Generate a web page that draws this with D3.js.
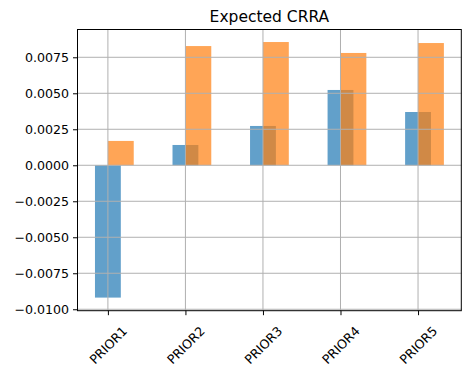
<!DOCTYPE html>
<html>
<head>
<meta charset="utf-8">
<script src="https://cdn.jsdelivr.net/npm/d3@7"></script>
<style>
  body { margin: 0; background: #fff; }
  text { font-family: "DejaVu Sans", sans-serif; }
</style>
</head>
<body>
<script>
var width = 470;
var height = 374;

var categories = ['PRIOR1', 'PRIOR2', 'PRIOR3', 'PRIOR4', 'PRIOR5'];
var blueValues = [-0.00919, 0.00141, 0.00273, 0.00523, 0.00370];
var orangeValues = [0.00169, 0.00828, 0.00856, 0.00780, 0.00849];
var yTicks = [-0.0100, -0.0075, -0.0050, -0.0025, 0.0000, 0.0025, 0.0050, 0.0075];

var plotLeft = 77.5, plotRight = 461.3, plotTop = 29.5, plotBottom = 310.7;
var barWidth = 1 / 3;

var svg = d3.select('body').append('svg')
  .attr('width', width).attr('height', height);

var x = d3.scaleLinear().domain([-0.392, 4.558]).range([plotLeft, plotRight]);
var y = d3.scaleLinear().domain([-0.01010, 0.00943]).range([plotBottom, plotTop]);

// bars: blue centred on the tick, orange starting at the tick
svg.selectAll('rect.blue').data(blueValues).enter().append('rect')
  .attr('class', 'blue')
  .attr('x', function(d, i) { return x(i - barWidth / 2); })
  .attr('width', function(d, i) { return x(i + barWidth / 2) - x(i - barWidth / 2); })
  .attr('y', function(d) { return y(Math.max(0, d)); })
  .attr('height', function(d) { return Math.abs(y(d) - y(0)); })
  .style('fill', '#1f77b4').style('fill-opacity', 0.7);

svg.selectAll('rect.orange').data(orangeValues).enter().append('rect')
  .attr('class', 'orange')
  .attr('x', function(d, i) { return x(i); })
  .attr('width', function(d, i) { return x(i + barWidth) - x(i); })
  .attr('y', function(d) { return y(Math.max(0, d)); })
  .attr('height', function(d) { return Math.abs(y(d) - y(0)); })
  .style('fill', '#ff7f0e').style('fill-opacity', 0.7);

// grid on top of the bars, like matplotlib
svg.selectAll('line.hgrid').data(yTicks).enter().append('line')
  .attr('class', 'hgrid')
  .attr('x1', plotLeft).attr('x2', plotRight)
  .attr('y1', function(d) { return y(d); }).attr('y2', function(d) { return y(d); })
  .style('stroke', '#b0b0b0').style('stroke-width', 1);

svg.selectAll('line.vgrid').data(categories).enter().append('line')
  .attr('class', 'vgrid')
  .attr('x1', function(d, i) { return x(i); }).attr('x2', function(d, i) { return x(i); })
  .attr('y1', plotTop).attr('y2', plotBottom)
  .style('stroke', '#b0b0b0').style('stroke-width', 1);

// y axis
var yAxis = d3.axisLeft(y).tickValues(yTicks).tickSize(4.5).tickPadding(4)
  .tickFormat(function(d) { return d3.format('.4f')(d).replace('-', '\u2212'); });
var gy = svg.append('g').attr('transform', 'translate(' + plotLeft + ',0)').call(yAxis);
gy.select('.domain').remove();
gy.selectAll('text').style('font-size', '12.6px').style('fill', '#000');
gy.selectAll('line').style('stroke', '#000');

// x axis
var xAxis = d3.axisBottom(x).tickValues(d3.range(categories.length)).tickSize(4.5)
  .tickFormat(function(d) { return categories[d]; });
var gx = svg.append('g').attr('transform', 'translate(0,' + plotBottom + ')').call(xAxis);
gx.select('.domain').remove();
gx.selectAll('line').style('stroke', '#000');
gx.selectAll('text')
  .style('font-size', '12.6px').style('fill', '#000')
  .attr('text-anchor', 'middle').attr('dy', '0.35em')
  .attr('y', 34.5)
  .attr('transform', 'rotate(-45,0,34.5)');

// frame
svg.append('rect')
  .attr('x', plotLeft).attr('y', plotTop)
  .attr('width', plotRight - plotLeft).attr('height', plotBottom - plotTop)
  .style('fill', 'none').style('stroke', '#000').style('stroke-width', 1);

svg.append('text')
  .attr('x', (plotLeft + plotRight) / 2).attr('y', 22)
  .attr('text-anchor', 'middle')
  .style('font-size', '15.5px')
  .text('Expected CRRA');
</script>
</body>
</html>
